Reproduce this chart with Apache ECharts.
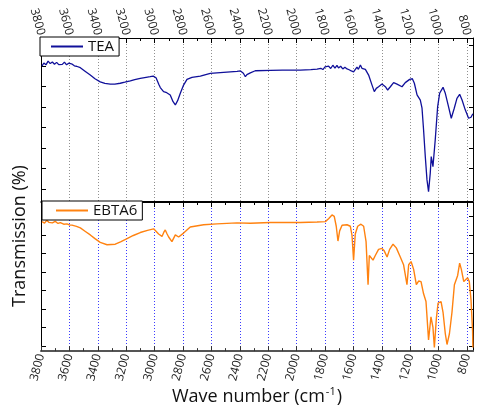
<!DOCTYPE html>
<html>
<head>
<meta charset="utf-8">
<script src="https://cdn.jsdelivr.net/npm/echarts@6/dist/echarts.min.js"></script>
<style>html,body{margin:0;padding:0;background:#fff;}#c{width:477px;height:409px;}</style>
</head>
<body>
<div id="c"></div>
<script>
// ---- data ----
const majorTicks = [800,1000,1200,1400,1600,1800,2000,2200,2400,2600,2800,3000,3200,3400,3600,3800];
const minorTicks = [900,1100,1300,1500,1700,1900,2100,2300,2500,2700,2900,3100,3300,3500,3700];
const yTicks = [10,20,30,40,50,60,70,80];

const teaWn = [
 3793,3780,3765,3750,3735,3720,3705,3690,3675,3664,
 3650,3635,3620,3605,3594,3580,3565,3550,3523,3490,
 3453,3420,3383,3350,3312,3280,3242,3210,3171,3140,
 3101,3060,3031,3010,3002,2990,2983,2970,2960,2937,
 2920,2908,2890,2870,2854,2838,2819,2796,2772,2737,
 2678,2608,2514,2420,2395,2385,2375,2361,2350,2338,
 2326,2291,2185,2100,1974,1900,1856,1830,1815,1800,
 1786,1775,1760,1745,1730,1716,1705,1690,1675,1660,
 1645,1630,1615,1599,1588,1575,1565,1551,1540,1530,
 1516,1493,1469,1453,1439,1423,1399,1387,1375,1359,
 1340,1317,1293,1258,1235,1204,1185,1171,1152,1129,
 1117,1106,1094,1082,1071,1059,1052,1040,1024,1007,
 993,969,953,930,911,890,871,852,835,812,
 789,772,759
];
const teaT = [
 70.0,71.5,70.6,72.4,71.2,72.0,70.9,71.8,70.7,71.6,
 70.8,71.9,70.6,71.4,70.6,70.9,70.1,69.9,69.2,67.5,
 65.6,63.8,62.3,61.5,61.2,61.2,61.6,62.1,62.8,63.4,
 64.0,64.5,64.8,65.1,65.0,64.3,63.5,61.0,59.5,57.5,
 57.2,57.0,55.9,52.6,51.0,53.1,56.7,60.7,63.5,64.5,
 65.1,66.4,66.9,67.4,67.6,67.7,66.5,64.8,65.8,66.1,
 66.7,67.7,67.9,68.0,68.0,68.3,68.5,68.9,68.3,69.6,
 68.7,70.0,68.8,70.4,69.0,70.3,69.1,69.9,68.6,69.4,
 68.6,68.2,67.6,67.2,67.8,69.5,68.4,70.5,68.9,69.8,
 68.4,65.6,60.7,57.5,59.1,59.9,61.2,60.7,59.9,58.3,
 59.9,61.9,61.2,59.9,61.9,63.5,63.8,61.6,55.9,53.4,
 49.4,38.8,25.8,14.4,8.7,17.7,25.8,20.9,33.9,50.1,
 56.7,59.6,56.7,50.1,44.5,49.4,54.2,56.2,53.4,48.5,
 44.5,45.0,46.7
];

const ebtaWn = [
 3793,3775,3760,3745,3735,3720,3700,3680,3664,3640,
 3617,3600,3582,3550,3523,3490,3453,3420,3383,3335,
 3277,3240,3194,3150,3101,3050,3007,2990,2972,2948,
 2935,2925,2912,2901,2878,2854,2831,2796,2749,2655,
 2561,2420,2326,2185,1974,1856,1798,1775,1751,1735,
 1721,1709,1697,1680,1645,1622,1610,1599,1587,1570,
 1547,1528,1511,1497,1488,1476,1462,1446,1423,1399,
 1383,1363,1345,1321,1298,1270,1247,1235,1223,1211,
 1194,1176,1157,1141,1124,1106,1089,1071,1054,1040,
 1030,1016,1004,983,969,953,941,924,906,889,
 876,866,852,840,823,812,796,784,772,761,
 759
];
const ebtaT = [
 77.2,76.4,77.9,76.8,77.7,76.5,77.3,76.2,76.7,75.8,
 76.0,75.4,75.3,74.6,73.8,72.0,70.0,68.0,66.0,64.7,
 65.0,66.3,68.0,69.7,71.3,72.5,73.3,72.0,70.5,69.2,
 71.5,72.7,70.5,68.9,66.4,70.0,68.9,71.0,74.3,75.5,
 76.0,76.5,76.3,76.7,76.7,77.0,77.2,78.8,80.8,80.0,
 74.7,66.7,72.2,75.2,75.5,74.7,69.7,56.4,70.5,74.7,
 75.8,74.7,66.4,43.1,58.9,59.8,56.4,58.9,62.2,62.7,
 61.4,58.1,62.2,65.0,63.0,58.1,53.9,53.1,43.1,53.9,
 55.6,51.4,43.1,45.1,44.8,38.2,34.0,13.3,25.7,20.0,
 9.2,24.9,33.2,34.0,28.2,16.6,10.8,16.6,28.2,43.1,
 42.3,48.1,54.8,51.4,44.8,45.6,46.8,44.8,34.9,18.3,
 9.2
];

// ---- chart ----
const FONT = '"Open Sans", "Liberation Sans", sans-serif';
const XMIN = 758, XMAX = 3800;

function xAx(grid, pos, o) {
  return Object.assign({
    type: 'value', gridIndex: grid, position: pos, min: XMIN, max: XMAX, inverse: true,
    axisLine: { show: false }, axisTick: { show: false }, axisLabel: { show: false },
    splitLine: { show: false }
  }, o);
}
function yAx(grid, pos, min, max, o) {
  return Object.assign({
    type: 'value', gridIndex: grid, position: pos, min: min, max: max,
    axisLine: { show: true, onZero: false, lineStyle: { color: '#000', width: 1 } },
    axisTick: { show: true, inside: true, length: 5, customValues: yTicks, lineStyle: { color: '#000' } },
    axisLabel: { show: false }, splitLine: { show: false }
  }, o);
}
function labelStyle() {
  return { show: true, rotate: 75, fontSize: 12, color: '#222', fontFamily: FONT, margin: 3,
           customValues: majorTicks, formatter: v => String(v) };
}

const option = {
  animation: false,
  backgroundColor: '#fff',
  grid: [
    { left: 41, top: 38, width: 432, height: 163 },
    { left: 41, top: 202, width: 432, height: 162 }
  ],
  xAxis: [
    xAx(0, 'top', {
      axisLine: { show: true, onZero: false, lineStyle: { color: '#000', width: 1 } },
      axisTick: { show: true, inside: true, length: 5, customValues: majorTicks, lineStyle: { color: '#000' } },
      axisLabel: labelStyle(),
      splitLine: { show: true, lineStyle: { color: '#909090', width: 1, type: [1, 2] } }
    }),
    xAx(0, 'top', { axisTick: { show: true, inside: true, length: 3, customValues: minorTicks, lineStyle: { color: '#000' } } }),
    xAx(0, 'bottom', { axisLine: { show: true, onZero: false, lineStyle: { color: '#000', width: 1 } } }),
    xAx(1, 'top', {
      axisLine: { show: true, onZero: false, lineStyle: { color: '#000', width: 1 } },
      axisTick: { show: true, inside: true, length: 5, customValues: majorTicks, lineStyle: { color: '#000' } }
    }),
    xAx(1, 'top', { axisTick: { show: true, inside: true, length: 3, customValues: minorTicks, lineStyle: { color: '#000' } } }),
    xAx(1, 'bottom', {
      axisLine: { show: true, onZero: false, lineStyle: { color: '#555', width: 2 } },
      axisTick: { show: true, inside: true, length: 5, customValues: majorTicks, lineStyle: { color: '#333' } },
      axisLabel: labelStyle(),
      splitLine: { show: true, lineStyle: { color: '#3b3bff', width: 1, type: [1, 2] } },
      name: 'Wave number (cm{sup|-1})',
      nameLocation: 'middle', nameGap: 29,
      nameTextStyle: {
        fontSize: 18, color: '#111', fontFamily: FONT, lineHeight: 22,
        rich: { sup: { fontSize: 11, color: '#111', fontFamily: FONT, verticalAlign: 'top', lineHeight: 22, padding: [0, 1, 10, 1] } }
      }
    }),
    xAx(1, 'bottom', { axisTick: { show: true, inside: true, length: 3, customValues: minorTicks, lineStyle: { color: '#333' } } })
  ],
  yAxis: [
    yAx(0, 'left', 4.1, 83.7),
    yAx(0, 'right', 4.1, 83.7, { axisTick: { show: true, inside: true, length: 4, customValues: yTicks, lineStyle: { color: '#000' } } }),
    yAx(1, 'left', 7.2, 87.8),
    yAx(1, 'right', 7.2, 87.8, { axisTick: { show: true, inside: true, length: 4, customValues: yTicks, lineStyle: { color: '#000' } } })
  ],
  legend: [
    {
      data: ['TEA'], left: 40, top: 37, borderColor: '#000', borderWidth: 1, borderRadius: 0,
      backgroundColor: '#fff', padding: [2, 5, 2, 11], itemWidth: 32, itemHeight: 2, icon: 'rect',
      textStyle: { fontSize: 15, color: '#111', fontFamily: FONT }
    },
    {
      data: ['EBTA6'], left: 42, top: 201, borderColor: '#000', borderWidth: 1, borderRadius: 0,
      backgroundColor: '#fff', padding: [2, 5, 2, 14], itemWidth: 32, itemHeight: 2, icon: 'rect',
      textStyle: { fontSize: 15, color: '#111', fontFamily: FONT }
    }
  ],
  graphic: [
    {
      type: 'text', x: 20, y: 236, rotation: Math.PI / 2,
      style: { text: 'Transmission (%)', fontSize: 18, fill: '#111', fontFamily: FONT, align: 'center', verticalAlign: 'middle' }
    }
  ],
  series: [
    {
      name: 'TEA', type: 'line', xAxisIndex: 0, yAxisIndex: 0, showSymbol: false, symbol: 'none',
      data: teaWn.map((w, i) => [w, teaT[i]]),
      lineStyle: { color: '#10109a', width: 1.3 }, itemStyle: { color: '#10109a' }
    },
    {
      name: 'EBTA6', type: 'line', xAxisIndex: 5, yAxisIndex: 2, showSymbol: false, symbol: 'none',
      data: ebtaWn.map((w, i) => [w, ebtaT[i]]),
      lineStyle: { color: '#ff8210', width: 1.4 }, itemStyle: { color: '#ff8210' }
    }
  ]
};
const chart = echarts.init(document.getElementById('c'), null, { renderer: 'canvas' });
chart.setOption(option);
</script>
</body>
</html>
